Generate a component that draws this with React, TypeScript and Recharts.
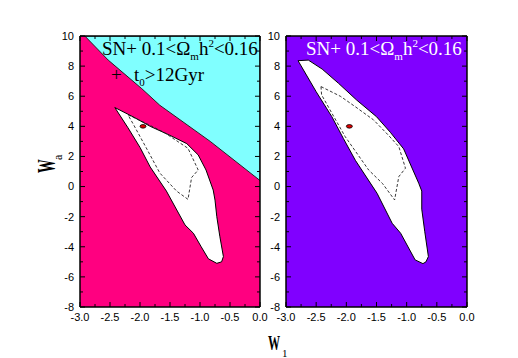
import React from "react";
import { ComposedChart, XAxis, YAxis, Scatter, CartesianGrid } from "recharts";

// axis ticks
const xTicks = [-3, -2.5, -2, -1.5, -1, -0.5, 0];
const xMinorTicks = [-2.75, -2.25, -1.75, -1.25, -0.75, -0.25];
const yTicks = [-8, -6, -4, -2, 0, 2, 4, 6, 8, 10];
const yMinorTicks = [-7, -5, -3, -1, 1, 3, 5, 7, 9];
const corners = [[-3, -8], [0, 10]];

// left panel (SN + Omega_m h^2 + t0)
const leftExcluded = [
  [-2.92, 10], [-2.53, 8.4], [-1.97, 6.5], [-1.67, 5.4], [-0.83, 3.0], [0, 0.4], [0, 10],
];
const leftOuter = [
  [-2.42, 5.25], [-2.1, 4.6], [-1.83, 4.0], [-1.5, 3.4], [-1.22, 2.85], [-1.03, 2.1],
  [-0.9, 1.1], [-0.78, -0.23], [-0.75, -0.9], [-0.72, -2.0], [-0.67, -3.3], [-0.61, -4.65],
  [-0.64, -5.0], [-0.72, -5.1], [-0.86, -4.8], [-0.98, -4.0], [-1.11, -3.1], [-1.25, -2.55],
  [-1.56, -0.3], [-1.83, 1.3], [-2.0, 2.6], [-2.2, 3.9],
];
const leftInner = [
  [-2.2, 4.76], [-1.95, 4.3], [-1.6, 3.6], [-1.2, 2.54], [-1.03, 1.1], [-1.14, 0.6],
  [-1.2, -0.85], [-1.39, -0.3], [-1.67, 0.9], [-1.9, 2.6], [-2.12, 4.2],
];

// right panel (SN + Omega_m h^2)
const rightOuter = [
  [-2.8, 8.36], [-2.63, 8.4], [-2.4, 7.8], [-2.13, 6.86], [-1.83, 5.75], [-1.5, 4.64],
  [-1.27, 3.6], [-1.05, 2.5], [-0.8, 0.22], [-0.75, -0.3], [-0.75, -1.5], [-0.7, -3.0],
  [-0.64, -4.65], [-0.68, -5.0], [-0.73, -5.12], [-0.86, -4.87], [-1.1, -3.1], [-1.24, -2.44],
  [-1.49, -0.45], [-1.85, 1.74], [-2.05, 3.2], [-2.24, 4.64], [-2.5, 6.3], [-2.71, 7.74],
];
const rightInner = [
  [-2.42, 6.64], [-2.1, 6.0], [-1.85, 5.3], [-1.55, 4.43], [-1.3, 3.4], [-1.13, 2.65],
  [-1.02, 1.22], [-1.13, 0.66], [-1.2, -0.89], [-1.4, 0.2], [-1.63, 1.1], [-2.02, 3.32],
  [-2.27, 5.09], [-2.41, 6.09],
];

const bestFit = [[-1.95, 4.0]];

const pts = (a: number[][]) => a.map(([x, y]) => ({ x, y }));
const noDot = () => <g />;
const tickFont = { fontSize: 11, fill: "#000", fontFamily: "Liberation Sans, Arial, sans-serif" };
const frame = { stroke: "#000", strokeWidth: 1.5 };
const tl = { stroke: "#000", strokeWidth: 1 };

// inner tick marks: mirrored axes, one pair per side and tick size
function innerX(id: string, orientation: "top" | "bottom", ticks: number[], size: number, line: any) {
  return (
    <XAxis key={id} xAxisId={id} dataKey="x" type="number" domain={[-3, 0]} allowDataOverflow ticks={ticks} interval={0}
      orientation={orientation} mirror height={0.01} tick={noDot} tickSize={size} tickLine={tl} axisLine={line} />
  );
}
function innerY(id: string, orientation: "left" | "right", ticks: number[], size: number, line: any) {
  return (
    <YAxis key={id} yAxisId={id} dataKey="y" type="number" domain={[-8, 10]} allowDataOverflow ticks={ticks} interval={0}
      orientation={orientation} mirror width={0.01} tick={noDot} tickSize={size} tickLine={tl} axisLine={line} />
  );
}

function Panel({ left, width, margin, bg, excluded, outer, inner }: any) {
  return (
    <div style={{ position: "absolute", left, top: 0 }}>
      <ComposedChart width={width} height={358} margin={margin}>
        <CartesianGrid xAxisId="x" yAxisId="y" horizontal={false} vertical={false} fill={bg} fillOpacity={1} stroke="none" />
        {excluded && (
          <Scatter xAxisId="x" yAxisId="y" data={pts(excluded)} dataKey="y" zIndex={100}
            line={{ fill: "#80ffff", stroke: "#222", strokeWidth: 1 }} lineType="joint" lineJointType="linearClosed"
            shape={noDot} isAnimationActive={false} />
        )}
        <Scatter xAxisId="x" yAxisId="y" data={pts(outer)} dataKey="y" zIndex={100}
          line={{ fill: "#ffffff", stroke: "#000", strokeWidth: 1 }} lineType="joint" lineJointType="linearClosed"
          shape={noDot} isAnimationActive={false} />
        <Scatter xAxisId="x" yAxisId="y" data={pts(inner)} dataKey="y" zIndex={100}
          line={{ fill: "none", stroke: "#222", strokeWidth: 0.9, strokeDasharray: "3 2" }} lineType="joint" lineJointType="linearClosed"
          shape={noDot} isAnimationActive={false} />
        <Scatter xAxisId="x" yAxisId="y" data={pts(bestFit)} dataKey="y" zIndex={100}
          shape={(p: any) => <ellipse cx={p.cx} cy={p.cy} rx={3} ry={1.8} fill="#e00000" stroke="#000" strokeWidth={0.8} />}
          isAnimationActive={false} />
        {/* invisible anchors so the tick-only axes get a domain */}
        <Scatter xAxisId="xb" yAxisId="yl" data={pts(corners)} dataKey="y" shape={noDot} isAnimationActive={false} />
        <Scatter xAxisId="xB" yAxisId="yL" data={pts(corners)} dataKey="y" shape={noDot} isAnimationActive={false} />
        <Scatter xAxisId="xt" yAxisId="yr" data={pts(corners)} dataKey="y" shape={noDot} isAnimationActive={false} />
        <Scatter xAxisId="xT" yAxisId="yR" data={pts(corners)} dataKey="y" shape={noDot} isAnimationActive={false} />

        <XAxis xAxisId="x" dataKey="x" type="number" domain={[-3, 0]} allowDataOverflow ticks={xTicks} interval={0}
          tickFormatter={(v: number) => v.toFixed(1)} tickLine={false} tickSize={4} tickMargin={2}
          axisLine={frame} height={20} tick={tickFont} />
        {innerX("xb", "bottom", xMinorTicks, 3, false)}
        {innerX("xB", "bottom", xTicks, 5, false)}
        {innerX("xt", "top", xMinorTicks, 3, frame)}
        {innerX("xT", "top", xTicks, 5, false)}
        <YAxis yAxisId="y" dataKey="y" type="number" domain={[-8, 10]} allowDataOverflow ticks={yTicks} interval={0}
          tickLine={false} tickSize={4} tickMargin={2} axisLine={frame} width={30} tick={tickFont} />
        {innerY("yl", "left", yMinorTicks, 3, false)}
        {innerY("yL", "left", yTicks, 5, false)}
        {innerY("yr", "right", yMinorTicks, 3, frame)}
        {innerY("yR", "right", yTicks, 5, false)}
      </ComposedChart>
    </div>
  );
}

function Legend({ x, y, color }: { x: number; y: number; color: string }) {
  return (
    <text x={x} y={y} fill={color} fontFamily="Liberation Serif, Times New Roman, serif" fontSize={19}>
      <tspan>{"SN+ 0.1<Ω"}</tspan>
      <tspan dy={5} fontSize={11}>m</tspan>
      <tspan dy={-5}>h</tspan>
      <tspan dy={-8} fontSize={11}>2</tspan>
      <tspan dy={8}>{"<0.16"}</tspan>
    </text>
  );
}

export default function App() {
  return (
    <div style={{ position: "absolute", left: 0, top: 0, width: 518, height: 358, background: "#fff" }}>
      <Panel left={0} width={270} margin={{ top: 36, right: 10, left: 50, bottom: 31 }}
        bg="#ff0080" excluded={leftExcluded} outer={leftOuter} inner={leftInner} />
      <Panel left={256} width={262} margin={{ top: 36, right: 51, left: 0, bottom: 31 }}
        bg="#8000ff" outer={rightOuter} inner={rightInner} />
      <svg width={518} height={358} style={{ position: "absolute", left: 0, top: 0, pointerEvents: "none" }}>
        <Legend x={102} y={55} color="#000" />
        <text x={111} y={81} fill="#000" fontFamily="Liberation Serif, serif" fontSize={19}>+</text>
        <text x={134} y={81} fill="#000" fontFamily="Liberation Serif, serif" fontSize={19}>
          <tspan>t</tspan>
          <tspan dy={5} fontSize={11}>0</tspan>
          <tspan dy={-5}>{">12Gyr"}</tspan>
        </text>
        <Legend x={306} y={55} color="#fff" />
        <text transform="translate(55,173) rotate(-90) scale(0.55,1)" fill="#000"
          fontFamily="Liberation Serif, serif" fontWeight="bold" fontSize={25}>W</text>
        <text transform="translate(62,160) rotate(-90)" fill="#000" fontFamily="Liberation Serif, serif" fontSize={12}>a</text>
        <text transform="translate(268,350) scale(0.55,1)" fill="#000"
          fontFamily="Liberation Serif, serif" fontWeight="bold" fontSize={22}>W</text>
        <text x={282} y={357} fill="#000" fontFamily="Liberation Serif, serif" fontSize={11}>1</text>
      </svg>
    </div>
  );
}
